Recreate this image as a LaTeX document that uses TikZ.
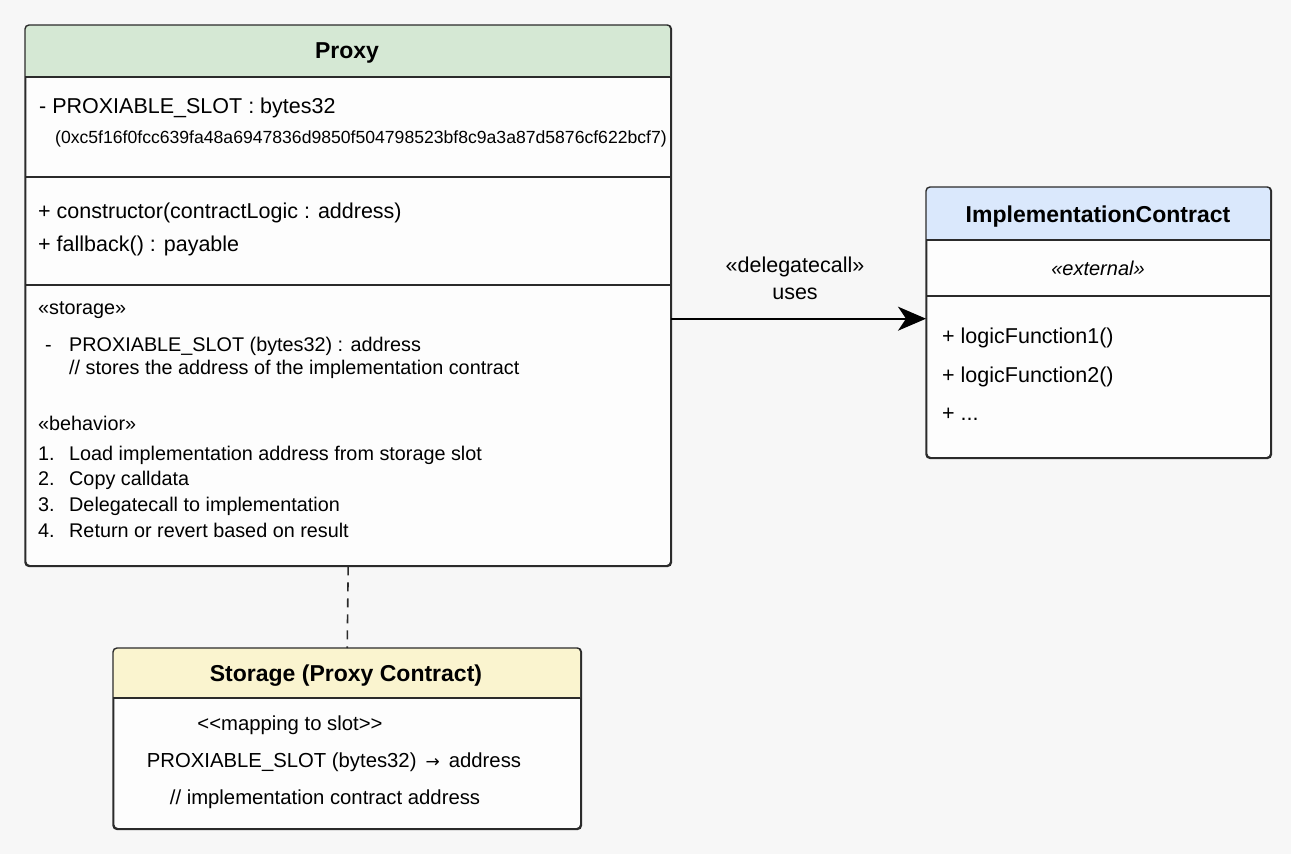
\documentclass[tikz,border=0pt]{standalone}
\usepackage{fontspec}
\newfontfamily\lsans{Liberation Sans}
\newfontfamily\dvsans{DejaVu Sans}
\usetikzlibrary{arrows.meta}
\definecolor{bg}{HTML}{F7F7F7}
\definecolor{boxfill}{HTML}{FDFDFD}
\definecolor{hgreen}{HTML}{D5E8D4}
\definecolor{hblue}{HTML}{DAE8FC}
\definecolor{hyellow}{HTML}{FAF4CF}
\definecolor{edge}{HTML}{2B2B2B}
\begin{document}
\begin{tikzpicture}[x=1pt,y=-1pt,
  box/.style={draw=edge, line width=1.4pt, fill=boxfill, rounded corners=4pt, inner sep=0pt, anchor=north west},
  frame/.style={draw=edge, line width=1.4pt, rounded corners=4pt},
  sepline/.style={draw=edge, line width=1.4pt},
  txtL/.style={anchor=base west, inner sep=0pt, text=black, font=\lsans\fontsize{21.5}{24}\selectfont},
  txt/.style={anchor=base west, inner sep=0pt, text=black, font=\lsans\fontsize{19.8}{22}\selectfont},
  ctxt/.style={anchor=base, inner sep=0pt, text=black, font=\lsans\fontsize{20.3}{22}\selectfont},
  lbl/.style={anchor=base, inner sep=0pt, text=black, font=\lsans\fontsize{21.5}{24}\selectfont},
  hextxt/.style={anchor=base west, inner sep=0pt, text=black, font=\lsans\fontsize{17.6}{19}\selectfont},
  ttl/.style={anchor=base, inner sep=0pt, text=black, font=\lsans\fontsize{23}{25}\selectfont\bfseries},
  assoc/.style={draw=black, line width=1.7pt, -{Stealth[length=28pt,width=24pt,inset=8pt]}},
  dep/.style={draw=edge, line width=1.6pt, dash pattern=on 9pt off 7pt}]
\useasboundingbox (0,0) rectangle (1291,854);
\fill[bg] (0,0) rectangle (1291,854);

% ---------------- Proxy ----------------
\node[box, minimum width=645pt, minimum height=540pt] (proxy) at (25,25) {};
\fill[hgreen] (25,77) [rounded corners=4pt] -- (25,25) -- (670,25) [sharp corners] -- (670,77) -- cycle;
\draw[frame] (proxy.north west) rectangle (proxy.south east);
\draw[sepline] (25,77) -- (670,77);
\draw[sepline] (25,177) -- (670,177);
\draw[sepline] (25,285) -- (670,285);
\node[ttl] (ptitle) at (347,58) {Proxy};
\node[txtL] (pa1) at (39,113.5) {- PROXIABLE\_SLOT : bytes32};
\node[hextxt] (pa2) at (55,143.5) {(0xc5f16f0fcc639fa48a6947836d9850f504798523bf8c9a3a87d5876cf622bcf7)};
\node[txtL] (pm1) at (38,218.5) {+ constructor(contractLogic : address)};
\node[txtL] (pm2) at (38,251.5) {+ fallback() : payable};
\node[txt] (pst) at (38,314) {«storage»};
\node[txt] (pdash) at (45,351) {-};
\node[txt] (ps1) at (69,351) {PROXIABLE\_SLOT (bytes32) : address};
\node[txt] (ps2) at (69,374) {// stores the address of the implementation contract};
\node[txt] (pbh) at (38,430) {«behavior»};
\node[txt] (pn1) at (38,460) {1.};
\node[txt] (pb1) at (69,460) {Load implementation address from storage slot};
\node[txt] (pn2) at (38,485) {2.};
\node[txt] (pb2) at (69,485) {Copy calldata};
\node[txt] (pn3) at (38,511) {3.};
\node[txt] (pb3) at (69,511) {Delegatecall to implementation};
\node[txt] (pn4) at (38,537) {4.};
\node[txt] (pb4) at (69,537) {Return or revert based on result};

% ---------------- ImplementationContract ----------------
\node[box, minimum width=344pt, minimum height=270pt] (impl) at (926,187) {};
\fill[hblue] (926,240) [rounded corners=4pt] -- (926,187) -- (1270,187) [sharp corners] -- (1270,240) -- cycle;
\draw[frame] (impl.north west) rectangle (impl.south east);
\draw[sepline] (926,240) -- (1270,240);
\draw[sepline] (926,296) -- (1270,296);
\node[ttl] (ititle) at (1098,222) {ImplementationContract};
\node[lbl, font=\lsans\fontsize{20}{22}\selectfont\itshape] (iext) at (1098,275) {«external»};
\node[txtL] (if1) at (942,343.5) {+ logicFunction1()};
\node[txtL] (if2) at (942,382.5) {+ logicFunction2()};
\node[txtL] (if3) at (942,420.5) {+ ...};

% ---------------- Storage ----------------
\node[box, minimum width=467pt, minimum height=180pt] (storage) at (113,648) {};
\fill[hyellow] (113,698) [rounded corners=4pt] -- (113,648) -- (580,648) [sharp corners] -- (580,698) -- cycle;
\draw[frame] (storage.north west) rectangle (storage.south east);
\draw[sepline] (113,698) -- (580,698);
\node[ttl] (stitle) at (346,681) {Storage (Proxy Contract)};
\node[ctxt] (sm1) at (290,730) {<<mapping to slot>>};
\node[ctxt] (sm2) at (334,767) {PROXIABLE\_SLOT (bytes32) \,{\dvsans\fontsize{17}{20}\selectfont →}\, address};
\node[ctxt] (sm3) at (325,804) {// implementation contract address};

% ---------------- connectors ----------------
\coordinate (tip) at ([yshift=4pt]impl.west);
\draw[assoc] (tip -| proxy.east) -- (tip);
\node[lbl] (lbl1) at (795,272) {«delegatecall»};
\node[lbl] (lbl2) at (795,299) {uses};
\draw[dep] (proxy.south) -- (storage.north);
\end{tikzpicture}
\end{document}
